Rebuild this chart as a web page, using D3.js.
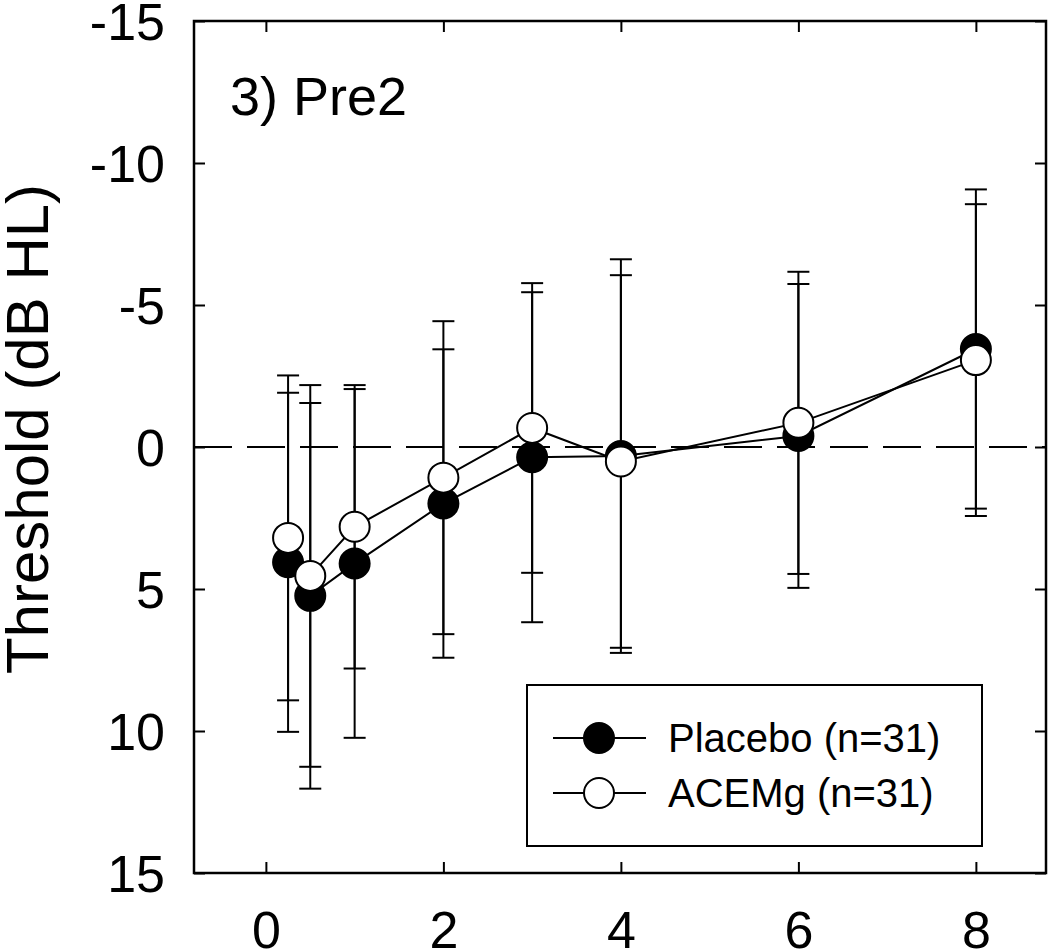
<!DOCTYPE html>
<html>
<head>
<meta charset="utf-8">
<script src="https://cdn.jsdelivr.net/npm/d3@7"></script>
<style>
  html, body { margin: 0; padding: 0; background: #fff; }
  svg { display: block; font-family: "Liberation Sans", Arial, sans-serif; }
</style>
</head>
<body>
<svg id="chart" width="1050" height="950"></svg>
<script>
// ---- Data ----
const xValues = [0.25, 0.5, 1, 2, 3, 4, 6, 8];
const placeboMean = [4.06, 5.24, 4.10, 1.99, 0.36, 0.32, -0.39, -3.45];
const placeboSD   = [5.97, 6.79, 6.14, 5.43, 5.81, 6.93, 5.35, 5.62];
const acemgMean   = [3.20, 4.54, 2.81, 1.08, -0.67, 0.51, -0.85, -3.06];
const acemgSD     = [5.72, 6.72, 4.99, 5.51, 5.10, 6.56, 5.32, 5.49];
const xTicks = [0, 2, 4, 6, 8];
const yTicks = [-15, -10, -5, 0, 5, 10, 15];
const seriesNames = ["Placebo (n=31)", "ACEMg (n=31)"];
const panelTitle = "3) Pre2";
const yTitle = "Threshold (dB HL)";

// ---- Layout ----
const L = 194, R = 1046, T = 21, B = 873;
const svg = d3.select("#chart");
const x = d3.scaleLinear().domain([-0.81, 8.79]).range([L, R]);
const y = d3.scaleLinear().domain([-15, 15]).range([T, B]);

const series = [
  { name: seriesNames[0], mean: placeboMean, sd: placeboSD, fill: "#000" },
  { name: seriesNames[1], mean: acemgMean, sd: acemgSD, fill: "#fff" }
];

// Dashed zero line
svg.append("line")
  .attr("x1", L).attr("x2", R)
  .attr("y1", y(0)).attr("y2", y(0))
  .attr("stroke", "#000").attr("stroke-width", 2)
  .attr("stroke-dasharray", "38,15");

// Axes (ticks inward on all four sides)
const tickLen = 11;
const fmt = d => String(d); // plain hyphen-minus as in the reference
function styleAxis(g) {
  g.select(".domain").remove();
  g.selectAll(".tick line").attr("stroke", "#000").attr("stroke-width", 2);
  g.selectAll(".tick text").attr("fill", "#000")
    .style("font-size", "52px")
    .style("font-family", '"Liberation Sans", Arial, sans-serif');
}
svg.append("g").attr("transform", `translate(${L},0)`)
  .call(d3.axisLeft(y).tickValues(yTicks).tickSize(-tickLen).tickPadding(29).tickFormat(fmt))
  .call(styleAxis)
  .selectAll(".tick text").attr("dy", "0.36em");
svg.append("g").attr("transform", `translate(${R},0)`)
  .call(d3.axisRight(y).tickValues(yTicks).tickSize(-tickLen).tickFormat(""))
  .call(styleAxis);
svg.append("g").attr("transform", `translate(0,${B})`)
  .call(d3.axisBottom(x).tickValues(xTicks).tickSize(-tickLen).tickPadding(38).tickFormat(fmt))
  .call(styleAxis);
svg.append("g").attr("transform", `translate(0,${T})`)
  .call(d3.axisTop(x).tickValues(xTicks).tickSize(-tickLen).tickFormat(""))
  .call(styleAxis);

// Frame
svg.append("rect")
  .attr("x", L).attr("y", T).attr("width", R - L).attr("height", B - T)
  .attr("fill", "none").attr("stroke", "#000").attr("stroke-width", 2.5);

// Error bars
const capHalf = 11;
series.forEach(s => {
  const g = svg.append("g");
  xValues.forEach((xv, i) => {
    const lo = s.mean[i] - s.sd[i], hi = s.mean[i] + s.sd[i];
    const px = x(xv);
    g.append("line").attr("x1", px).attr("x2", px).attr("y1", y(lo)).attr("y2", y(hi))
      .attr("stroke", "#000").attr("stroke-width", 2);
    [lo, hi].forEach(v => {
      g.append("line").attr("x1", px - capHalf).attr("x2", px + capHalf)
        .attr("y1", y(v)).attr("y2", y(v))
        .attr("stroke", "#000").attr("stroke-width", 2);
    });
  });
});

// Lines and markers
const lineGen = d3.line().x(d => x(d[0])).y(d => y(d[1]));
series.forEach(s => {
  const pts = xValues.map((xv, i) => [xv, s.mean[i]]);
  svg.append("path").attr("d", lineGen(pts))
    .attr("fill", "none").attr("stroke", "#000").attr("stroke-width", 2);
});
series.forEach(s => {
  svg.append("g").selectAll("circle")
    .data(xValues.map((xv, i) => [xv, s.mean[i]]))
    .join("circle")
    .attr("cx", d => x(d[0])).attr("cy", d => y(d[1])).attr("r", 15)
    .attr("fill", s.fill).attr("stroke", "#000").attr("stroke-width", 2);
});

// Panel title
svg.append("text").attr("x", 230).attr("y", 115)
  .style("font-size", "54px").attr("fill", "#000").text(panelTitle);

// Y title
svg.append("text")
  .attr("transform", `translate(48,429) rotate(-90)`)
  .attr("text-anchor", "middle")
  .style("font-size", "60px").attr("fill", "#000").text(yTitle);

// Legend
const lg = svg.append("g");
lg.append("rect").attr("x", 527).attr("y", 685).attr("width", 455).attr("height", 161)
  .attr("fill", "#fff").attr("stroke", "#000").attr("stroke-width", 2);
const legendY = [738, 793];
series.forEach((s, i) => {
  lg.append("line").attr("x1", 553).attr("x2", 646).attr("y1", legendY[i]).attr("y2", legendY[i])
    .attr("stroke", "#000").attr("stroke-width", 2);
  lg.append("circle").attr("cx", 599).attr("cy", legendY[i]).attr("r", 15)
    .attr("fill", s.fill).attr("stroke", "#000").attr("stroke-width", 2);
  lg.append("text").attr("x", 668).attr("y", legendY[i]).attr("dy", "0.36em")
    .style("font-size", "40px").attr("fill", "#000").text(s.name);
});
</script>
</body>
</html>
